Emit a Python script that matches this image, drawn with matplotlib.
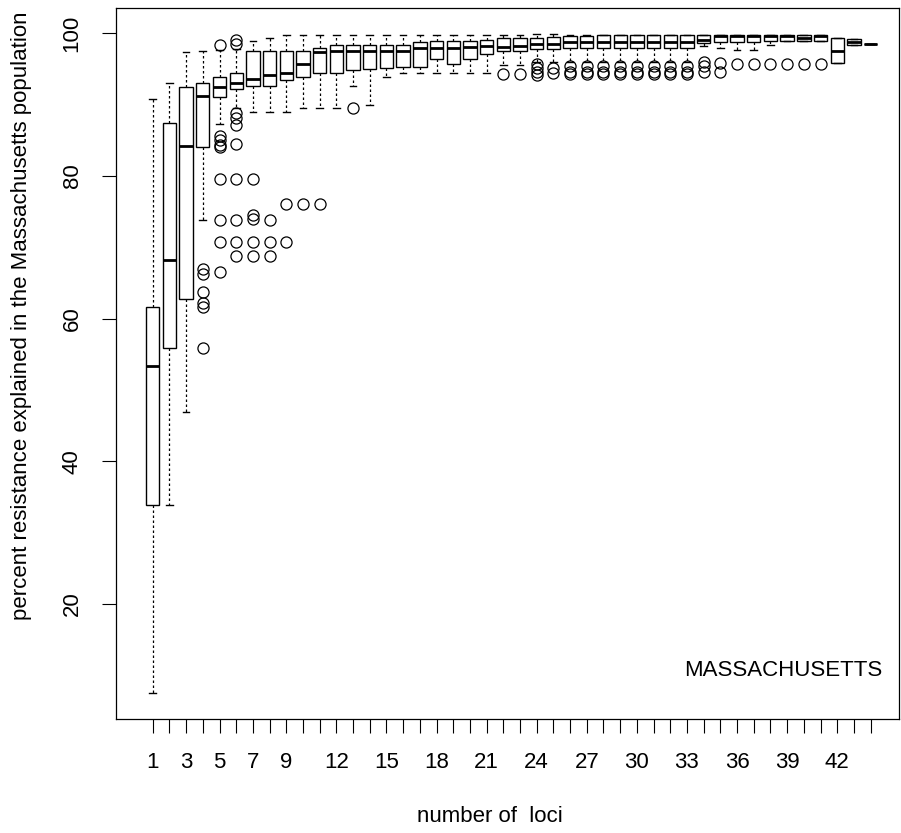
import numpy as np
import matplotlib.pyplot as plt

plt.rcParams['font.family'] = ['Liberation Sans', 'DejaVu Sans']

# box statistics per number of loci
loci = list(range(1, 45))
whislo = [7.6, 33.9, 46.9, 73.8, 87.3, 89.5, 89.0, 89.0, 89.0, 89.5,
          89.5, 89.5, 92.6, 89.9, 93.9, 94.4, 94.4, 94.4, 94.4, 94.4,
          94.4, 95.5, 95.5, 96.0, 96.0, 96.0, 96.0, 96.0, 96.0, 96.0,
          96.0, 96.0, 96.0, 98.2, 97.9, 97.6, 97.6, 98.3, 98.9, 98.9,
          98.9, 95.8, 98.3, 98.4]
q1 = [33.9, 55.9, 62.7, 84.0, 91.1, 92.1, 92.6, 92.6, 93.4, 93.9,
      94.4, 94.4, 94.8, 94.9, 95.1, 95.3, 95.3, 96.3, 95.6, 96.3,
      97.0, 97.5, 97.5, 97.8, 97.8, 97.9, 97.9, 97.9, 97.9, 97.9,
      97.9, 97.9, 97.9, 98.6, 98.8, 98.8, 98.8, 98.9, 98.9, 98.9,
      98.9, 95.8, 98.3, 98.4]
med = [53.4, 68.2, 84.2, 91.2, 92.5, 93.0, 93.5, 94.1, 94.4, 95.7,
       97.4, 97.5, 97.5, 97.5, 97.5, 97.5, 97.9, 97.9, 97.9, 98.0,
       98.2, 98.0, 98.2, 98.4, 98.4, 98.8, 98.8, 98.8, 98.8, 98.8,
       98.8, 98.8, 98.8, 99.0, 99.6, 99.6, 99.6, 99.6, 99.6, 99.3,
       99.6, 97.5, 98.8, 98.4]
q3 = [61.6, 87.4, 92.4, 93.0, 93.9, 94.4, 97.5, 97.5, 97.5, 97.5,
      97.9, 98.3, 98.3, 98.3, 98.3, 98.3, 98.8, 98.9, 98.9, 98.9,
      99.0, 99.3, 99.3, 99.3, 99.4, 99.6, 99.6, 99.7, 99.7, 99.7,
      99.7, 99.7, 99.7, 99.7, 99.7, 99.7, 99.7, 99.7, 99.7, 99.7,
      99.7, 99.3, 99.1, 98.4]
whishi = [90.8, 93.0, 97.3, 97.5, 97.6, 97.8, 98.9, 99.3, 99.7, 99.7,
          99.7, 99.7, 99.7, 99.7, 99.7, 99.7, 99.7, 99.7, 99.7, 99.7,
          99.7, 99.7, 99.7, 99.8, 99.8, 99.7, 99.7, 99.7, 99.7, 99.7,
          99.7, 99.7, 99.7, 99.7, 99.7, 99.7, 99.7, 99.7, 99.7, 99.7,
          99.7, 99.3, 99.1, 98.4]
fliers = [[], [], [],
          [66.9, 66.2, 63.7, 62.2, 61.6, 55.9],
          [98.3, 85.6, 85.0, 84.3, 84.0, 79.6, 73.8, 70.7, 66.5],
          [99.0, 98.4, 88.8, 88.1, 87.1, 84.5, 79.6, 73.8, 70.7, 68.8],
          [79.6, 74.5, 74.0, 70.7, 68.8],
          [73.8, 70.7, 68.8],
          [76.0, 70.7],
          [76.0], [76.0], [], [89.5], [], [], [], [], [], [], [], [],
          [94.2], [94.2],
          [95.6, 95.1, 94.6, 94.1],
          [95.1, 94.4],
          [95.4, 94.6, 94.3], [95.4, 94.6, 94.3], [95.4, 94.6, 94.3],
          [95.4, 94.6, 94.3], [95.4, 94.6, 94.3], [95.4, 94.6, 94.3],
          [95.4, 94.6, 94.3], [95.4, 94.6, 94.3],
          [96.0, 95.4, 94.6],
          [95.8, 94.5],
          [95.6], [95.6], [95.6], [95.6], [95.6], [95.6],
          [], [], []]
tick_labels = [1, 3, 5, 7, 9, 12, 15, 18, 21, 24, 27, 30, 33, 36, 39, 42]

stats = []
for i in range(len(loci)):
    stats.append(dict(whislo=whislo[i], q1=q1[i], med=med[i], q3=q3[i],
                      whishi=whishi[i], fliers=fliers[i]))

fig = plt.figure(figsize=(9.01, 8.33), dpi=100)
ax = fig.add_axes([116 / 901, 1 - 719 / 833, (899 - 116) / 901, (719 - 8) / 833])

ax.bxp(stats, positions=loci, widths=0.8, patch_artist=True,
       boxprops=dict(facecolor='white', edgecolor='black', linewidth=1),
       medianprops=dict(color='black', linewidth=2),
       whiskerprops=dict(color='black', linestyle=(0, (2, 2)), linewidth=0.9),
       capprops=dict(color='black', linewidth=1),
       capwidths=0.4,
       flierprops=dict(marker='o', markersize=8, markerfacecolor='none',
                       markeredgecolor='black', markeredgewidth=0.9))

ax.set_xlim(-1.2, 45.7)
ax.set_ylim(3.9, 103.5)
ax.set_xticks(loci)
ax.set_xticklabels([str(n) if n in tick_labels else '' for n in loci])
ax.set_yticks([20, 40, 60, 80, 100])
ax.set_yticklabels(['20', '40', '60', '80', '100'], rotation=90, va='center')
ax.tick_params(axis='both', length=10, width=0.8, labelsize=16)
ax.tick_params(axis='x', pad=14)
ax.tick_params(axis='y', pad=14)
for s in ax.spines.values():
    s.set_linewidth(0.9)

fig.text(490 / 901, 1 - 817 / 833, 'number of  loci', ha='center', va='center', fontsize=16)
fig.text(22 / 901, 1 - 316 / 833, 'percent resistance explained in the Massachusetts population',
         rotation=90, ha='center', va='center', fontsize=16)
fig.text(882 / 901, 1 - 670 / 833, 'MASSACHUSETTS', ha='right', va='center', fontsize=16)

fig.savefig('out.png', dpi=100)
